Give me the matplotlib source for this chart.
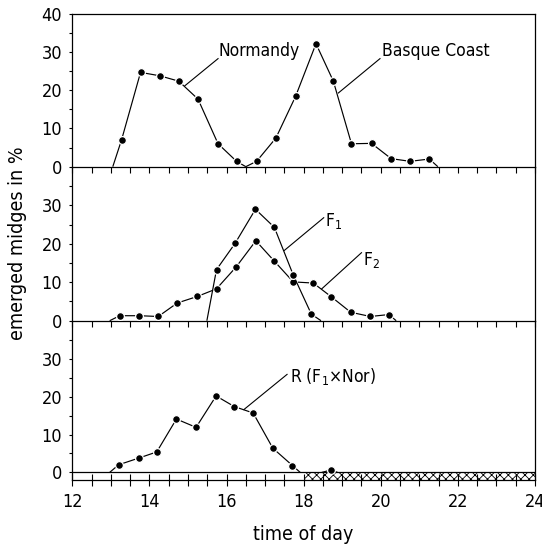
import matplotlib
matplotlib.use("Agg")
import matplotlib.pyplot as plt

plt.rcParams["font.family"] = ["DejaVu Sans"]
plt.rcParams["font.stretch"] = "condensed"
plt.rcParams["hatch.linewidth"] = 0.6

# emergence curves (hour of day, % emerged); end values 0 are where the line meets the baseline
normandy_h = [13.05, 13.28, 13.77, 14.27, 14.76, 15.26, 15.78, 16.26, 16.5]
normandy_v = [0, 7.1, 24.7, 23.8, 22.4, 17.7, 6.0, 1.4, 0]
basque_h = [16.5, 16.78, 17.28, 17.79, 18.32, 18.77, 19.24, 19.76, 20.27, 20.76, 21.26, 21.48]
basque_v = [0, 1.4, 7.5, 18.4, 32.2, 22.4, 6.0, 6.1, 2.1, 1.4, 2.0, 0]

f1_h = [15.49, 15.74, 16.22, 16.75, 17.24, 17.73, 18.2, 18.45]
f1_v = [0, 13.3, 20.1, 29.0, 24.3, 11.9, 1.7, 0]
f2_h = [12.97, 13.23, 13.74, 14.23, 14.72, 15.24, 15.74, 16.25, 16.76,
        17.24, 17.73, 18.25, 18.72, 19.22, 19.73, 20.21, 20.4]
f2_v = [0, 1.3, 1.3, 1.1, 4.6, 6.3, 8.3, 14.0, 20.8, 15.5, 10.1, 9.8, 6.2, 2.2, 1.1, 1.6, 0]

r_h = [12.97, 13.2, 13.73, 14.19, 14.7, 15.21, 15.73, 16.2, 16.69, 17.2, 17.71, 17.91]
r_v = [0, 2.0, 3.8, 5.4, 14.1, 11.9, 20.2, 17.4, 15.7, 6.4, 1.8, 0]
r_late_h = [18.47, 18.7, 18.88]
r_late_v = [0, 0.6, 0]

# hatched strip (no emergence recorded) in the lower panel
hatch_h = [18.0, 24.0]

x_major = [12, 14, 16, 18, 20, 22, 24]

fig = plt.figure(figsize=(5.42, 5.47), dpi=100)
ax_top = fig.add_axes([0.1334, 0.6953, 0.8537, 0.2792])
ax_mid = fig.add_axes([0.1334, 0.4137, 0.8537, 0.281])
ax_bot = fig.add_axes([0.1334, 0.1219, 0.8537, 0.2912])


def curve(ax, h, v):
    ax.plot(h, v, color="black", lw=0.85, marker="o", ms=5.6,
            mfc="black", mec="white", mew=0.9, markevery=slice(1, -1),
            solid_capstyle="butt", zorder=3, clip_on=False)


def label(ax, text, xy, line_from, line_to):
    ax.plot([line_from[0], line_to[0]], [line_from[1], line_to[1]],
            color="black", lw=0.8, zorder=2)
    ax.text(xy[0], xy[1], text, ha="left", va="center", fontsize=12.5)


for ax in (ax_top, ax_mid, ax_bot):
    ax.patch.set_visible(False)
    ax.set_xlim(12, 24)
    ax.set_xticks(x_major)
    ax.set_xticks([12 + 0.5 * i for i in range(25)], minor=True)
    ax.tick_params(axis="y", which="both", direction="out", length=2.4,
                   width=0.8, labelsize=13, pad=5)
    for s in ax.spines.values():
        s.set_linewidth(0.9)

for ax in (ax_top, ax_mid):
    ax.set_ylim(0, 40)
    ax.tick_params(axis="x", which="both", direction="out", length=4.5,
                   width=0.8, labelbottom=False)

ax_top.set_yticks([0, 10, 20, 30, 40])
ax_top.set_yticks([5, 15, 25, 35], minor=True)
ax_mid.set_yticks([0, 10, 20, 30])
ax_mid.set_yticks([5, 15, 25, 35], minor=True)
ax_mid.spines["top"].set_visible(False)

ax_bot.set_ylim(-2.1, 40)
ax_bot.set_yticks([0, 10, 20, 30])
ax_bot.set_yticks([5, 15, 25, 35], minor=True)
ax_bot.spines["top"].set_visible(False)
ax_bot.tick_params(axis="x", which="both", direction="inout", length=8.6,
                   width=0.8, labelsize=13, pad=5)
ax_bot.axhline(0, color="black", lw=0.9, zorder=2)
ax_bot.fill_between(hatch_h, -2.1, 0, facecolor="none", edgecolor="black",
                    hatch="xxxx", lw=0, zorder=1)

curve(ax_top, normandy_h, normandy_v)
curve(ax_top, basque_h, basque_v)
label(ax_top, "Normandy", (15.79, 30.4), (15.78, 28.3), (14.92, 21.2))
label(ax_top, "Basque Coast", (20.03, 30.4), (19.98, 28.3), (18.9, 19.3))

curve(ax_mid, f2_h, f2_v)
curve(ax_mid, f1_h, f1_v)
label(ax_mid, "F$_1$", (18.56, 25.9), (18.52, 26.8), (17.5, 18.3))
label(ax_mid, "F$_2$", (19.55, 15.9), (19.5, 17.7), (18.47, 8.3))

curve(ax_bot, r_h, r_v)
curve(ax_bot, r_late_h, r_late_v)
label(ax_bot, "R (F$_1$×Nor)", (17.64, 25.4), (17.57, 25.9), (16.45, 16.6))

fig.text(0.5603, 0.022, "time of day", ha="center", va="center", fontsize=14)
fig.text(0.032, 0.555, "emerged midges in %", ha="center", va="center",
         rotation=90, fontsize=14)

fig.savefig("out.png", dpi=100)
